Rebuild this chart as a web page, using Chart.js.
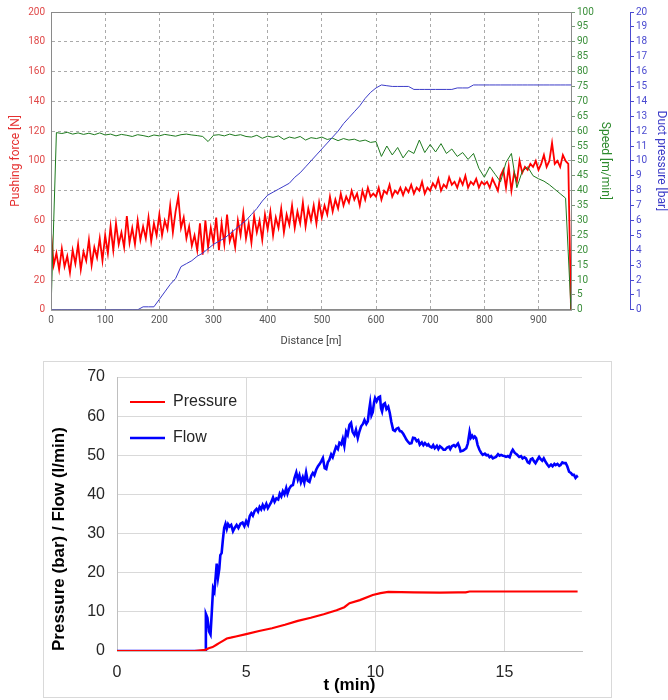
<!DOCTYPE html>
<html>
<head>
<meta charset="utf-8">
<script src="https://cdn.jsdelivr.net/npm/chart.js@4.4.1/dist/chart.umd.min.js"></script>
<style>
  body { margin: 0; background: #fff; width: 668px; height: 700px; position: relative; overflow: hidden; }
  #top { position: absolute; left: 0; top: 0; }
  #box { position: absolute; left: 43px; top: 361px; width: 569px; height: 337px; border: 1px solid #d9d9d9; box-sizing: border-box; }
</style>
</head>
<body>
<canvas id="top" width="668" height="352"></canvas>
<div id="box"><canvas id="bottom" width="567" height="335"></canvas></div>
<script>
// ---- top chart: pushing force / speed / duct pressure vs distance ----
const FORCE_STEP = 5;   // m between force samples
const forceValues = [
    52, 30, 38, 27, 41, 29, 36, 25, 40, 31,
    44, 27, 39, 33, 47, 30, 42, 35, 48, 33,
    50, 38, 56, 40, 58, 44, 52, 42, 63, 45,
    55, 44, 60, 47, 56, 48, 62, 46, 58, 50,
    64, 50, 60, 54, 70, 52, 66, 76, 55, 62,
    48, 56, 43, 50, 40, 58, 37, 60, 42, 55,
    45, 62, 40, 58, 44, 64, 46, 52, 42, 60,
    50, 65, 48, 58, 45, 63, 52, 60, 47, 64,
    54, 66, 50, 62, 55, 68, 52, 64, 57, 70,
    55, 66, 58, 72, 56, 68, 60, 70, 58, 72,
    62, 70, 64, 76, 66, 74, 68, 78, 70, 76,
    72, 80, 74, 78, 70, 80, 74, 82, 76, 78,
    76, 82, 74, 80, 78, 84, 76, 80, 78, 82,
    77, 82, 79, 84, 78, 82, 80, 86, 78, 82,
    80, 85, 82, 88, 80, 84, 82, 89, 84, 86,
    82, 88, 84, 90, 82, 86, 84, 88, 82, 86,
    84, 86, 82, 88, 84, 80, 90, 94, 82, 96,
    80, 92, 86, 100, 92, 96, 94, 98, 96, 100,
    94, 98, 104, 96, 100, 112, 98, 100, 96, 104,
    100, 98, 0
];

const SPEED_STEP = 10;  // m between speed / duct pressure samples
const speedValues = [
    0,
    59.5, 59.2, 59.6, 59.0, 59.4, 58.9, 59.3, 58.8, 59.4,
    58.7, 59.0, 58.4, 58.9, 58.6, 58.2, 58.8, 58.5, 58.1, 58.7,
    58.4, 58.9, 58.6, 58.3, 58.8, 59.0, 58.7, 58.5, 58.2, 56.5,
    58.6, 58.8, 58.4, 59.0, 58.5, 58.8, 58.2, 58.0, 58.6, 57.6,
    58.3, 57.9, 58.4, 57.2, 58.0, 57.6, 58.2, 57.0, 57.8, 57.5,
    58.0, 57.2, 57.6, 56.8, 57.5, 57.0, 57.3, 56.6, 57.0, 56.2,
    56.5, 51.5, 55.0, 52.0, 54.5, 51.0, 53.5, 52.5, 57.0, 52.8,
    55.5, 53.0, 55.8, 52.5, 54.0, 51.5, 52.8, 50.5, 52.5, 47.5,
    44.5, 48.0, 45.5, 43.0, 49.5, 52.5, 41.0, 46.5, 48.0, 45.0,
    44.0, 43.2, 42.0, 40.5, 39.0, 37.5,
    0
];

const ductValues = [
    0, 0, 0, 0, 0, 0, 0, 0, 0, 0,
    0, 0, 0, 0, 0, 0, 0, 0.2, 0.2, 0.2,
    0.7, 1.2, 1.7, 2.1, 2.9, 3.1, 3.3, 3.6, 3.8, 4.1,
    4.4, 4.6, 4.8, 5.1, 5.4, 5.7, 6.0, 6.4, 6.8, 7.3,
    7.7, 7.9, 8.1, 8.3, 8.5, 8.9, 9.2, 9.6, 10.0, 10.4,
    10.8, 11.2, 11.6, 12.0, 12.5, 12.9, 13.3, 13.7, 14.2, 14.6,
    14.9, 15.1, 15.05, 15.0, 15.0, 15.0, 15.0, 14.8, 14.8, 14.8,
    14.8, 14.8, 14.8, 14.8, 14.8, 14.9, 14.9, 14.9, 15.1, 15.1,
    15.1, 15.1, 15.1, 15.1, 15.1, 15.1, 15.1, 15.1, 15.1, 15.1,
    15.1, 15.1, 15.1, 15.1, 15.1, 15.1, 15.1
];

const distanceTicks = { min: 0, max: 960, step: 100 };

// ---- bottom chart: pressure / flow vs time ----
const flowTime = [
    0, 3.42, 3.44, 3.5, 3.56, 3.62, 3.67, 3.72, 3.77, 3.82, 3.86, 3.91, 3.96, 4.0, 4.05, 4.1, 4.15, 4.2, 4.25, 4.3,
    4.36, 4.42, 4.49, 4.56, 4.63, 4.7, 4.78, 4.86, 4.93, 5.0, 5.07, 5.14, 5.2, 5.26, 5.33, 5.4, 5.46, 5.52, 5.58, 5.64,
    5.7, 5.78, 5.84, 5.9, 5.97, 6.04, 6.1, 6.17, 6.24, 6.3, 6.36, 6.42, 6.48, 6.55, 6.6, 6.67, 6.74, 6.81, 6.87, 6.94,
    7.0, 7.06, 7.12, 7.19, 7.25, 7.32, 7.38, 7.45, 7.52, 7.58, 7.64, 7.71, 7.78, 7.85, 7.91, 7.97, 8.04, 8.1, 8.16, 8.22,
    8.29, 8.35, 8.42, 8.48, 8.55, 8.61, 8.68, 8.74, 8.8, 8.87, 8.93, 9.0, 9.06, 9.12, 9.19, 9.25, 9.32, 9.38, 9.45, 9.52,
    9.58, 9.65, 9.71, 9.76, 9.8, 9.85, 9.9, 9.95, 9.99, 10.05, 10.12, 10.18, 10.22, 10.26, 10.31, 10.37, 10.43, 10.5, 10.56, 10.62,
    10.69, 10.76, 10.82, 10.89, 10.95, 11.01, 11.08, 11.14, 11.2, 11.27, 11.33, 11.4, 11.46, 11.53, 11.6, 11.66, 11.72, 11.8, 11.86, 11.92,
    12.0, 12.05, 12.1, 12.18, 12.24, 12.3, 12.38, 12.44, 12.5, 12.58, 12.64, 12.7, 12.78, 12.85, 12.9, 12.96, 13.04, 13.1, 13.2, 13.26,
    13.3, 13.4, 13.52, 13.58, 13.65, 13.7, 13.75, 13.8, 13.85, 13.9, 13.96, 14.03, 14.1, 14.16, 14.24, 14.3, 14.36, 14.42, 14.48, 14.55,
    14.61, 14.67, 14.75, 14.81, 14.87, 14.94, 15.0, 15.06, 15.13, 15.2, 15.27, 15.32, 15.4, 15.48, 15.57, 15.64, 15.7, 15.77, 15.83, 15.9,
    15.96, 16.02, 16.08, 16.14, 16.2, 16.27, 16.34, 16.4, 16.46, 16.52, 16.6, 16.67, 16.72, 16.8, 16.86, 16.93, 16.98, 17.05, 17.12, 17.17,
    17.24, 17.3, 17.37, 17.43, 17.5, 17.57, 17.63, 17.69, 17.75, 17.8, 17.83
];
const flowValues = [
    0, 0, 9.5, 8.5, 5, 4.2, 10, 16, 15.2, 19, 22.3, 18.8, 21, 24.5, 25, 28.5, 31.5, 32.5, 31.2, 32.4,
    31.8, 32.2, 30.6, 31.5, 32.2, 31.4, 32.5, 32.8, 31.9, 33.2, 32.3, 34.5, 35.2, 34.6, 35.8, 36.3, 35.6, 36.8, 36.2, 37.3,
    36.4, 37.6, 36.5, 37.2, 38.0, 39.2, 38.1, 39.0, 38.7, 40.2, 39.5, 40.8, 40.0, 41.6, 40.2, 41.5, 42.2, 42.4, 44.2, 45.6,
    43.8, 44.9, 43.1, 44.4, 43.0, 45.6, 43.5, 43.2, 44.8, 45.5, 44.9, 46.3, 47.2, 47.8, 48.5, 49.3, 46.7, 46.5, 48.2, 48.8,
    50.2, 49.5, 51.0, 52.2, 51.6, 53.2, 52.8, 54.2, 52.4, 56.0, 55.2, 57.8, 58.3, 56.0, 55.2, 56.5, 54.4, 56.0, 57.4, 58.0,
    59.0, 58.0, 58.7, 61.5, 63.3, 60.2, 61.0, 63.5, 64.6, 63.8, 64.8, 65.0, 62.0, 61.2, 63.0, 63.3, 61.8, 62.4, 60.8, 58.5,
    56.5, 56.2, 56.8, 57.0, 56.2, 56.1, 55.5, 54.8, 54.0, 53.4, 53.0, 53.1, 54.5, 54.4, 53.6, 53.9, 52.7, 53.3, 52.6, 53.1,
    52.5, 52.8, 52.3, 52.0, 52.6, 51.8, 52.4, 51.6, 52.3, 51.9, 51.4, 51.4, 52.0, 52.2, 51.6, 52.3, 52.6, 52.2, 53.0, 52.0,
    51.0, 51.2, 51.8, 53.0, 56.0, 54.5, 55.0, 54.4, 54.8, 54.4, 52.6, 51.4, 50.6, 50.1, 50.4, 50.0, 50.1, 49.5, 49.8, 49.2,
    49.4, 49.6, 50.3, 49.9, 50.1, 49.9, 49.8, 49.6, 49.8, 49.5, 50.8, 51.4, 50.6, 50.2, 49.6, 49.8, 49.2, 49.5, 49.2, 48.2,
    48.0, 49.0, 49.2, 48.5, 48.0, 48.8, 49.6, 49.0, 48.6, 49.2, 48.2, 47.5, 47.1, 47.6, 47.2, 47.8, 47.5, 47.8, 47.3, 47.5,
    48.2, 48.0, 48.0, 47.2, 45.8, 45.5, 45.0, 45.0, 44.2, 44.6, 44.3
];

const pressureTime = [0, 3.0, 3.42, 3.55, 3.7, 3.85, 3.95, 4.1, 4.25, 4.4, 4.6, 5.0, 5.5, 6.0, 6.5, 7.0, 7.5, 8.0, 8.5, 8.8, 9.0, 9.4, 9.9, 10.2, 10.5, 11.5, 12.5, 13.2, 13.5, 13.65, 14.5, 17.83];
const pressureValues = [0, 0, 0.3, 0.7, 1.0, 1.6, 2.0, 2.6, 3.2, 3.4, 3.7, 4.3, 5.1, 5.8, 6.7, 7.7, 8.5, 9.4, 10.4, 11.2, 12.2, 13.0, 14.3, 14.8, 15.1, 15.0, 14.9, 15.0, 15.0, 15.2, 15.2, 15.2];

const timeTicks = { min: 0, max: 18, step: 5 };
const levelTicks = { min: 0, max: 70, step: 10 };

// ---------------------------------------------------------------

const roboto = (size) => ({ family: 'Roboto', size });
const arial = (size, weight) => ({ family: 'Liberation Sans', size, weight });

const stepped = (values, step) => values.map((v, i) => ({ x: i * step, y: v }));
const paired = (xs, ys) => xs.map((x, i) => ({ x, y: ys[i] }));

// solid frame around the plot area (top and right edges)
const frame = {
    id: 'frame',
    afterDraw(chart) {
        const { ctx, chartArea: a } = chart;
        ctx.save();
        ctx.strokeStyle = '#8a8a8a';
        ctx.lineWidth = 1;
        ctx.strokeRect(a.left + 0.5, a.top + 0.5, a.right - a.left, a.bottom - a.top);
        ctx.restore();
    }
};

// nudge the in-plot legend to where the original sits
const legendNudge = {
    id: 'legendNudge',
    afterLayout(chart) {
        chart.legend.left -= 7;
        chart.legend.top += 12;
    }
};

new Chart(document.getElementById('top'), {
    type: 'line',
    data: {
        datasets: [
            {
                label: 'Duct pressure',
                data: stepped(ductValues, SPEED_STEP),
                yAxisID: 'yDuct',
                borderColor: '#3c3cc8',
                borderWidth: 1,
            },
            {
                label: 'Speed',
                data: stepped(speedValues, SPEED_STEP),
                yAxisID: 'ySpeed',
                borderColor: '#1f7a1f',
                borderWidth: 1,
            },
            {
                label: 'Pushing force',
                data: stepped(forceValues, FORCE_STEP),
                yAxisID: 'yForce',
                borderColor: '#ff0000',
                borderWidth: 1.8,
            },
        ]
    },
    options: {
        responsive: false,
        animation: false,
        events: [],
        layout: { padding: { top: 10, bottom: 2 } },
        elements: {
            point: { radius: 0 },
            line: { tension: 0 },
        },
        plugins: { legend: { display: false }, tooltip: { enabled: false } },
        scales: {
            x: {
                type: 'linear',
                min: distanceTicks.min,
                max: distanceTicks.max,
                ticks: { stepSize: distanceTicks.step, includeBounds: false, color: '#555', font: roboto(10), padding: 5 },
                grid: { color: '#aaaaaa', drawTicks: false },
                border: { color: '#8a8a8a', dash: [3, 3] },
                title: { display: true, text: 'Distance [m]', color: '#444', font: roboto(11), padding: { top: 3, bottom: 2 } },
            },
            yForce: {
                position: 'left',
                min: 0,
                max: 200,
                ticks: { stepSize: 20, color: '#e04848', font: roboto(10), padding: 6 },
                grid: { color: '#aaaaaa', drawTicks: false },
                border: { color: '#8a8a8a', dash: [3, 3] },
                title: { display: true, text: 'Pushing force [N]', color: '#e53030', font: roboto(12), padding: { top: 9, bottom: 0 } },
                afterFit(s) { s.width = 51; },
            },
            ySpeed: {
                position: 'right',
                min: 0,
                max: 100,
                ticks: { stepSize: 5, autoSkip: false, color: '#3b8f3b', font: roboto(10), padding: 2 },
                grid: { drawOnChartArea: false, tickLength: 4, color: '#7a9a7a' },
                border: { color: '#8a8a8a' },
                title: { display: true, text: 'Speed [m/min]', color: '#2e8b2e', font: roboto(12), padding: { top: 18, bottom: 0 } },
                afterFit(s) { s.width = 59; },
            },
            yDuct: {
                position: 'right',
                min: 0,
                max: 20,
                ticks: { stepSize: 1, autoSkip: false, color: '#4a4ad0', font: roboto(10), padding: 2 },
                grid: { drawOnChartArea: false, tickLength: 4, color: '#4a4ad0' },
                border: { color: '#4a4ad0' },
                title: { display: true, text: 'Duct pressure [bar]', color: '#3c3cc8', font: roboto(12), padding: { top: 0, bottom: 0 } },
                afterFit(s) { s.width = 38; },
            },
        }
    },
    plugins: [frame]
});

new Chart(document.getElementById('bottom'), {
    type: 'line',
    data: {
        datasets: [
            {
                label: 'Pressure',
                data: paired(pressureTime, pressureValues),
                borderColor: '#ff0000',
                backgroundColor: '#ff0000',
                borderWidth: 2.2,
            },
            {
                label: 'Flow',
                data: paired(flowTime, flowValues),
                borderColor: '#0000ff',
                backgroundColor: '#0000ff',
                borderWidth: 2.6,
            },
        ]
    },
    options: {
        responsive: false,
        animation: false,
        events: [],
        layout: { padding: { top: 15, right: 29, bottom: 0 } },
        elements: {
            point: { radius: 0 },
            line: { tension: 0 },
        },
        plugins: {
            tooltip: { enabled: false },
            legend: {
                position: 'chartArea',
                align: 'start',
                labels: {
                    usePointStyle: true,
                    pointStyle: 'line',
                    pointStyleWidth: 35,
                    color: '#262626',
                    font: arial(16),
                    padding: 20,
                }
            }
        },
        scales: {
            x: {
                type: 'linear',
                min: timeTicks.min,
                max: timeTicks.max,
                ticks: { stepSize: timeTicks.step, includeBounds: false, color: '#262626', font: arial(16), padding: 12 },
                grid: { color: '#d9d9d9', drawTicks: false },
                border: { color: '#bfbfbf' },
                title: { display: true, text: 't (min)', color: '#000', font: arial(17, 'bold'), padding: { top: 0, bottom: 1 } },
                afterFit(s) { s.height = 46; },
            },
            y: {
                min: levelTicks.min,
                max: levelTicks.max,
                ticks: { stepSize: levelTicks.step, color: '#262626', font: arial(16), padding: 12 },
                grid: { color: '#d9d9d9', drawTicks: false },
                border: { color: '#bfbfbf' },
                title: { display: true, align: 'start', text: 'Pressure (bar) / Flow (l/min)', color: '#000', font: arial(17, 'bold'), padding: { top: 5, bottom: 0 } },
                afterFit(s) { s.width = 73; s.paddingTop = 0; },
            }
        }
    },
    plugins: [legendNudge]
});
</script>
</body>
</html>
